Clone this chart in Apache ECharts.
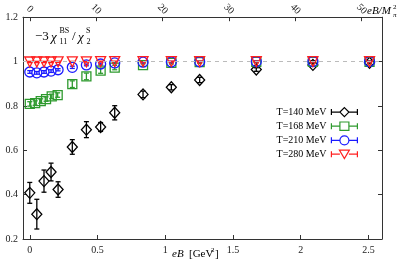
<!DOCTYPE html>
<html><head><meta charset="utf-8">
<script src="https://cdn.jsdelivr.net/npm/echarts@6/dist/echarts.min.js"></script>
<style>html,body{margin:0;padding:0;background:#fff}#c{width:408px;height:272px}</style>
</head><body><div id="c"></div>
<script>
// ---- data ----
const eB140 = [0, 0.052, 0.105, 0.157, 0.209, 0.314, 0.418, 0.523, 0.627, 0.836, 1.045, 1.254, 1.672, 2.09, 2.508];
const y140  = [0.408, 0.312, 0.461, 0.502, 0.423, 0.615, 0.693, 0.705, 0.769, 0.852, 0.884, 0.917, 0.964, 0.985, 0.995];
const e140  = [0.047, 0.067, 0.05, 0.04, 0.035, 0.033, 0.036, 0.02, 0.032, 0.015, 0.012, 0.012, 0.008, 0.006, 0.005];

const eB168 = [0, 0.04, 0.081, 0.12, 0.162, 0.206, 0.314, 0.418, 0.523, 0.627, 0.836, 1.045, 1.254, 1.672, 2.09, 2.508];
const y168  = [0.809, 0.813, 0.822, 0.831, 0.843, 0.849, 0.898, 0.933, 0.959, 0.973, 0.984, 0.994, 0.997, 0.999, 0.999, 0.999];
const e168  = [0.01, 0.01, 0.01, 0.01, 0.01, 0.01, 0.015, 0.015, 0.012, 0.01, 0.006, 0.005, 0.005, 0.004, 0.004, 0.004];

const eB210 = [0, 0.052, 0.105, 0.157, 0.209, 0.314, 0.418, 0.523, 0.627, 0.836, 1.045, 1.254, 1.672, 2.09, 2.508];
const y210  = [0.953, 0.949, 0.953, 0.957, 0.963, 0.974, 0.985, 0.989, 0.994, 0.997, 0.998, 0.999, 1.0, 1.0, 1.0];
const e210  = [0.006, 0.006, 0.006, 0.006, 0.005, 0.005, 0.004, 0.004, 0.003, 0.003, 0.003, 0.002, 0.002, 0.002, 0.002];

const eB280 = [0, 0.052, 0.105, 0.157, 0.209, 0.314, 0.418, 0.523, 0.627, 0.836, 1.045, 1.254, 1.672, 2.09, 2.508];
const y280  = [0.998, 0.998, 0.998, 0.998, 0.999, 0.999, 0.999, 1.0, 1.0, 1.0, 1.0, 1.0, 1.0, 1.0, 1.0];
const e280  = [0.003, 0.003, 0.003, 0.003, 0.003, 0.002, 0.002, 0.002, 0.002, 0.002, 0.002, 0.002, 0.002, 0.002, 0.002];

const seriesNames = ['T=140 MeV', 'T=168 MeV', 'T=210 MeV', 'T=280 MeV'];
const xTicks = [0, 0.5, 1, 1.5, 2, 2.5];
const topTicks = [0, 10, 20, 30, 40, 50];
const yTicks = [0.2, 0.4, 0.6, 0.8, 1.0, 1.2];
const MPI2 = 0.049; // GeV^2, conversion for top axis
const X_MIN = -0.05, X_MAX = 2.6;

// ---- style ----
const SERIF = '"Liberation Serif", "DejaVu Serif", serif';
const COLORS = ['#000000', '#2e9a2e', '#1a1aff', '#ff2020'];
const SYMBOLS = ['diamond', 'rect', 'circle', 'triangle'];
const SIZES = [[10, 11], 9, 10, 10];
const ROT = [0, 0, 0, 180];
const ICONS = [
  'path://M0,5L8.5,5M17.5,5L26,5M0,2L0,8M26,2L26,8M13,0.5L17.5,5L13,9.5L8.5,5Z',
  'path://M0,5L8.5,5M17.5,5L26,5M0,2L0,8M26,2L26,8M8.5,0.8L17.5,0.8L17.5,9.2L8.5,9.2Z',
  'path://M0,5L8.5,5M17.5,5L26,5M0,2L0,8M26,2L26,8M8.5,5A4.5,4.5 0 1 1 17.5,5A4.5,4.5 0 1 1 8.5,5Z',
  'path://M0,5L8.5,5M17.5,5L26,5M0,2L0,8M26,2L26,8M8,1L18,1L13,9.5Z'
];

const xs = [eB140, eB168, eB210, eB280];
const ys = [y140, y168, y210, y280];
const es = [e140, e168, e210, e280];

function errRenderer(color) {
  return function (params, api) {
    const x = api.value(0), y = api.value(1), e = api.value(2);
    const t = api.coord([x, y + e]);
    const b = api.coord([x, y - e]);
    const hw = 2.5;
    const st = { stroke: color, lineWidth: 1.3 };
    return {
      type: 'group', children: [
        { type: 'line', shape: { x1: t[0], y1: t[1], x2: b[0], y2: b[1] }, style: st },
        { type: 'line', shape: { x1: t[0] - hw, y1: t[1], x2: t[0] + hw, y2: t[1] }, style: st },
        { type: 'line', shape: { x1: b[0] - hw, y1: b[1], x2: b[0] + hw, y2: b[1] }, style: st }
      ]
    };
  };
}

const series = [];
for (let i = 0; i < 4; i++) {
  const errSeries = {
    type: 'custom', name: 'err' + i, xAxisIndex: 0, yAxisIndex: 0,
    renderItem: errRenderer(COLORS[i]),
    encode: { x: 0, y: 1 },
    data: xs[i].map((x, k) => [x, ys[i][k], es[i][k]]),
    silent: true
  };
  if (i === 0) {
    errSeries.markLine = {
      silent: true, symbol: ['none', 'none'], label: { show: false },
      lineStyle: { color: '#bbbbbb', type: [4, 4], width: 1 },
      data: [{ yAxis: 1 }]
    };
  }
  series.push(errSeries);
  series.push({
    type: 'scatter', name: seriesNames[i], xAxisIndex: 0, yAxisIndex: 0,
    symbol: SYMBOLS[i], symbolSize: SIZES[i], symbolRotate: ROT[i],
    itemStyle: { color: 'rgba(255,255,255,0)', borderColor: COLORS[i], borderWidth: 1.3, opacity: 1 },
    data: xs[i].map((x, k) => [x, ys[i][k]])
  });
}

const axisLineStyle = { color: '#333', width: 1 };
const fmt = v => String(+(+v).toFixed(2));

const option = {
  animation: false,
  backgroundColor: '#fff',
  grid: { left: 23, right: 26, top: 17, bottom: 33 },
  xAxis: [
    {
      type: 'value', position: 'bottom', min: X_MIN, max: X_MAX,
      axisLine: { show: true, onZero: false, lineStyle: axisLineStyle },
      axisTick: { show: true, inside: true, length: 4, customValues: xTicks, lineStyle: axisLineStyle },
      axisLabel: { customValues: xTicks, formatter: fmt, fontFamily: SERIF, fontSize: 10, color: '#222', margin: 6 },
      splitLine: { show: false }
    },
    {
      type: 'value', position: 'top', min: X_MIN / MPI2, max: X_MAX / MPI2,
      axisLine: { show: true, onZero: false, lineStyle: axisLineStyle },
      axisTick: { show: true, inside: true, length: 4, customValues: topTicks, lineStyle: axisLineStyle },
      axisLabel: { customValues: topTicks, rotate: 45, align: 'center', verticalAlign: 'middle',
                   fontFamily: SERIF, fontSize: 10, color: '#222', margin: 8 },
      splitLine: { show: false }
    }
  ],
  yAxis: [
    {
      type: 'value', position: 'left', min: 0.2, max: 1.2, interval: 0.2,
      axisLine: { show: true, onZero: false, lineStyle: axisLineStyle },
      axisTick: { show: true, inside: true, length: 4, lineStyle: axisLineStyle },
      axisLabel: { formatter: fmt, fontFamily: SERIF, fontSize: 10, color: '#222', margin: 5 },
      splitLine: { show: false }
    },
    {
      type: 'value', position: 'right', min: 0.2, max: 1.2, interval: 0.2,
      axisLine: { show: true, onZero: false, lineStyle: axisLineStyle },
      axisTick: { show: true, inside: true, length: 4, lineStyle: axisLineStyle },
      axisLabel: { show: false },
      splitLine: { show: false }
    }
  ],
  legend: {
    orient: 'vertical', right: 45, top: 102, align: 'right',
    itemWidth: 26, itemHeight: 10, itemGap: 4,
    textStyle: { fontFamily: SERIF, fontSize: 10, color: '#000' },
    data: seriesNames.map((n, i) => ({
      name: n, icon: ICONS[i],
      itemStyle: { color: 'rgba(255,255,255,0)', borderColor: COLORS[i], borderWidth: 1.2 }
    }))
  },
  graphic: [
    // annotation  -3 chi^BS_11 / chi^S_2
    { type: 'text', style: { text: '−3', x: 35, y: 37, verticalAlign: 'middle', font: '13px ' + SERIF, fill: '#000' } },
    { type: 'text', style: { text: 'χ', x: 51, y: 38, verticalAlign: 'middle', font: 'italic 13px ' + SERIF, fill: '#000' } },
    { type: 'text', style: { text: 'BS', x: 59.5, y: 30.5, verticalAlign: 'middle', font: '8px ' + SERIF, fill: '#000' } },
    { type: 'text', style: { text: '11', x: 59.5, y: 41.5, verticalAlign: 'middle', font: '8px ' + SERIF, fill: '#000' } },
    { type: 'text', style: { text: '/', x: 72, y: 37, verticalAlign: 'middle', font: '13px ' + SERIF, fill: '#000' } },
    { type: 'text', style: { text: 'χ', x: 78, y: 38, verticalAlign: 'middle', font: 'italic 13px ' + SERIF, fill: '#000' } },
    { type: 'text', style: { text: 'S', x: 86, y: 30.5, verticalAlign: 'middle', font: '8px ' + SERIF, fill: '#000' } },
    { type: 'text', style: { text: '2', x: 86.5, y: 41.5, verticalAlign: 'middle', font: '8px ' + SERIF, fill: '#000' } },
    // top axis name eB/M_pi^2
    { type: 'text', style: { text: 'eB/M', x: 367, y: 11.5, verticalAlign: 'middle', font: 'italic 11px ' + SERIF, fill: '#000' } },
    { type: 'text', style: { text: '2', x: 393, y: 7.5, verticalAlign: 'middle', font: '7px ' + SERIF, fill: '#000' } },
    { type: 'text', style: { text: 'π', x: 393, y: 15.5, verticalAlign: 'middle', font: 'italic 7px ' + SERIF, fill: '#000' } },
    // x axis name eB [GeV^2]
    { type: 'text', style: { text: 'eB', x: 172, y: 254, verticalAlign: 'middle', font: 'italic 11px ' + SERIF, fill: '#000' } },
    { type: 'text', style: { text: '[GeV', x: 189, y: 254, verticalAlign: 'middle', font: '11px ' + SERIF, fill: '#000' } },
    { type: 'text', style: { text: '2', x: 211, y: 250, verticalAlign: 'middle', font: '7px ' + SERIF, fill: '#000' } },
    { type: 'text', style: { text: ']', x: 215, y: 254, verticalAlign: 'middle', font: '11px ' + SERIF, fill: '#000' } }
  ],
  series: series
};

const chart = echarts.init(document.getElementById('c'), null, { renderer: 'canvas' });
chart.setOption(option);
</script>
</body></html>
